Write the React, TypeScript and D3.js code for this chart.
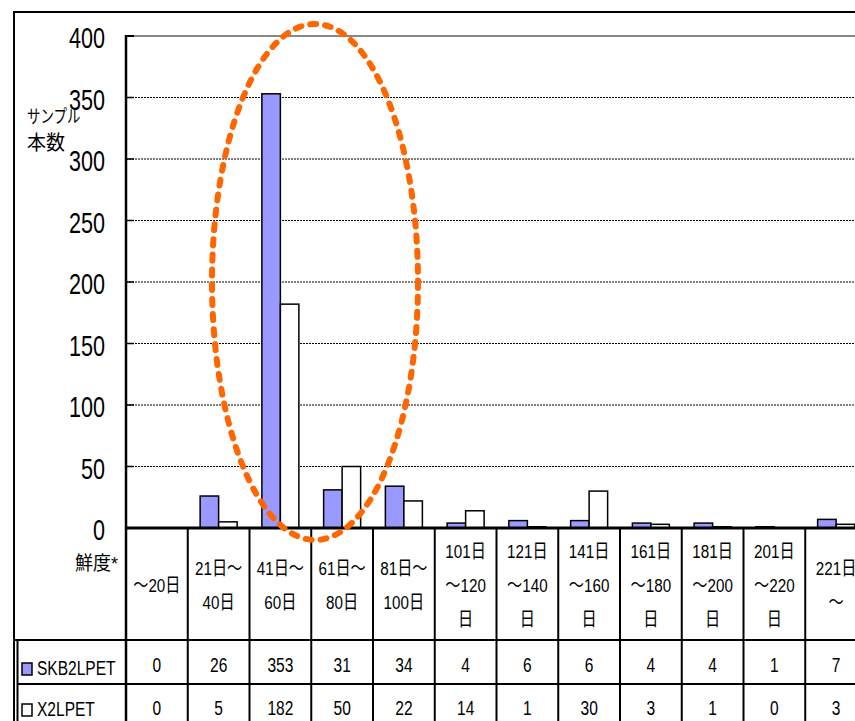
import React from "react";
import * as d3 from "d3";

const categories: string[][] = [
  ["～20日"],
  ["21日～", "40日"],
  ["41日～", "60日"],
  ["61日～", "80日"],
  ["81日～", "100日"],
  ["101日", "～120", "日"],
  ["121日", "～140", "日"],
  ["141日", "～160", "日"],
  ["161日", "～180", "日"],
  ["181日", "～200", "日"],
  ["201日", "～220", "日"],
  ["221日", "～"],
];
const skbValues = [0, 26, 353, 31, 34, 4, 6, 6, 4, 4, 1, 7];
const x2Values = [0, 5, 182, 50, 22, 14, 1, 30, 3, 1, 0, 3];
const seriesNames = ["SKB2LPET", "X2LPET"];
const yTicks = [0, 50, 100, 150, 200, 250, 300, 350, 400];

const W = 855;
const H = 721;
const FONT = "'Liberation Sans', Arial, 'Noto Sans CJK JP', sans-serif";
const SKB_COLOR = "#9999FF";

export default function App() {
  const keys = categories.map((c, i) => String(i));
  const x = d3.scaleBand<string>().domain(keys).range([126, 126 + 12 * 61.75]).padding(0);
  const y = d3.scaleLinear().domain([0, 400]).range([528, 36]);
  const barW = 18.5;
  const headerTop = 528;
  const row1 = 640;
  const row2 = 684;

  const NT = ({ x: tx, y: ty, s, anchor = "middle", size = 19, sx = 0.75 }: any) => (
    <text
      transform={`translate(${tx},${ty}) scale(${sx},1)`}
      textAnchor={anchor}
      dominantBaseline="central"
      fontFamily={FONT}
      fontSize={size}
      fill="#000"
    >
      {s}
    </text>
  );

  return (
    <svg
      width={W}
      height={H}
      style={{ position: "absolute", left: 0, top: 0, display: "block", background: "#fff" }}
    >
      <rect x={0} y={0} width={W} height={H} fill="#fff" />
      {/* gridlines */}
      {yTicks.filter((t) => t > 0 && t < 400).map((t) => (
        <g key={t}>
          <line x1={126} x2={W} y1={y(t)} y2={y(t)} stroke="#000" strokeWidth={1} strokeDasharray="2,1" />
          <line x1={126} x2={134} y1={y(t)} y2={y(t)} stroke="#000" strokeWidth={1.5} />
        </g>
      ))}
      <line x1={126} x2={W} y1={y(400)} y2={y(400)} stroke="#888" strokeWidth={2} />
      <line x1={126} x2={134} y1={y(400)} y2={y(400)} stroke="#000" strokeWidth={2} />

      {/* bars */}
      {keys.map((k, i) => {
        const cx = (x(k) as number) + x.bandwidth() / 2;
        return (
          <g key={k}>
            {skbValues[i] > 0 && (
              <rect x={cx - barW} y={y(skbValues[i])} width={barW} height={y(0) - y(skbValues[i])}
                fill={SKB_COLOR} stroke="#000" strokeWidth={1.5} />
            )}
            {x2Values[i] > 0 && (
              <rect x={cx} y={y(x2Values[i])} width={barW} height={y(0) - y(x2Values[i])}
                fill="#fff" stroke="#000" strokeWidth={1.5} />
            )}
          </g>
        );
      })}

      {/* y tick labels */}
      {yTicks.map((t) => (
        <NT key={t} x={105} y={y(t) + 2} anchor="end" size={30} sx={0.72} s={String(t)} />
      ))}

      {/* axis title */}
      <NT x={27} y={117} anchor="start" size={18} sx={0.75} s="サンプル" />
      <NT x={27} y={143} anchor="start" size={20} sx={0.95} s="本数" />

      {/* frame & table lines */}
      <line x1={14} x2={14} y1={11} y2={H} stroke="#000" strokeWidth={2} />
      <line x1={13} x2={W} y1={12} y2={12} stroke="#000" strokeWidth={2} />
      <line x1={126} x2={126} y1={35} y2={H} stroke="#000" strokeWidth={2.5} />
      <line x1={126} x2={W} y1={headerTop} y2={headerTop} stroke="#000" strokeWidth={3} />
      {keys.map((k) => (
        <line key={k} x1={(x(k) as number) + x.bandwidth()} x2={(x(k) as number) + x.bandwidth()}
          y1={headerTop} y2={H} stroke="#000" strokeWidth={2} />
      ))}
      <line x1={14} x2={W} y1={row1} y2={row1} stroke="#000" strokeWidth={2} />
      <line x1={17} x2={W} y1={row2} y2={row2} stroke="#000" strokeWidth={2} />
      <line x1={17.5} x2={17.5} y1={row1} y2={H} stroke="#000" strokeWidth={2} />

      {/* header labels */}
      <NT x={118} y={563} anchor="end" size={19} sx={0.95} s="鮮度*" />
      {categories.map((lines, i) => {
        const cx = (x(keys[i]) as number) + x.bandwidth() / 2;
        return lines.map((ln, j) => (
          <NT key={`${i}-${j}`} x={cx} y={585 + (j - (lines.length - 1) / 2) * 34} size={19} sx={0.8} s={ln} />
        ));
      })}

      {/* legend + data rows */}
      <rect x={22} y={663} width={10} height={12} fill={SKB_COLOR} stroke="#000" strokeWidth={1.5} />
      <NT x={37} y={668} anchor="start" size={21} sx={0.74} s={seriesNames[0]} />
      <rect x={22} y={704} width={10} height={12} fill="#fff" stroke="#000" strokeWidth={1.5} />
      <NT x={37} y={709} anchor="start" size={21} sx={0.74} s={seriesNames[1]} />
      {keys.map((k, i) => {
        const cx = (x(k) as number) + x.bandwidth() / 2;
        return (
          <g key={k}>
            <NT x={cx} y={665} size={21} sx={0.74} s={String(skbValues[i])} />
            <NT x={cx} y={708} size={21} sx={0.74} s={String(x2Values[i])} />
          </g>
        );
      })}

      {/* highlight ellipse */}
      <ellipse cx={315} cy={282} rx={103} ry={258} fill="none" stroke="#FF6600" strokeWidth={6}
        strokeDasharray="6,9" strokeLinecap="round" />
    </svg>
  );
}
